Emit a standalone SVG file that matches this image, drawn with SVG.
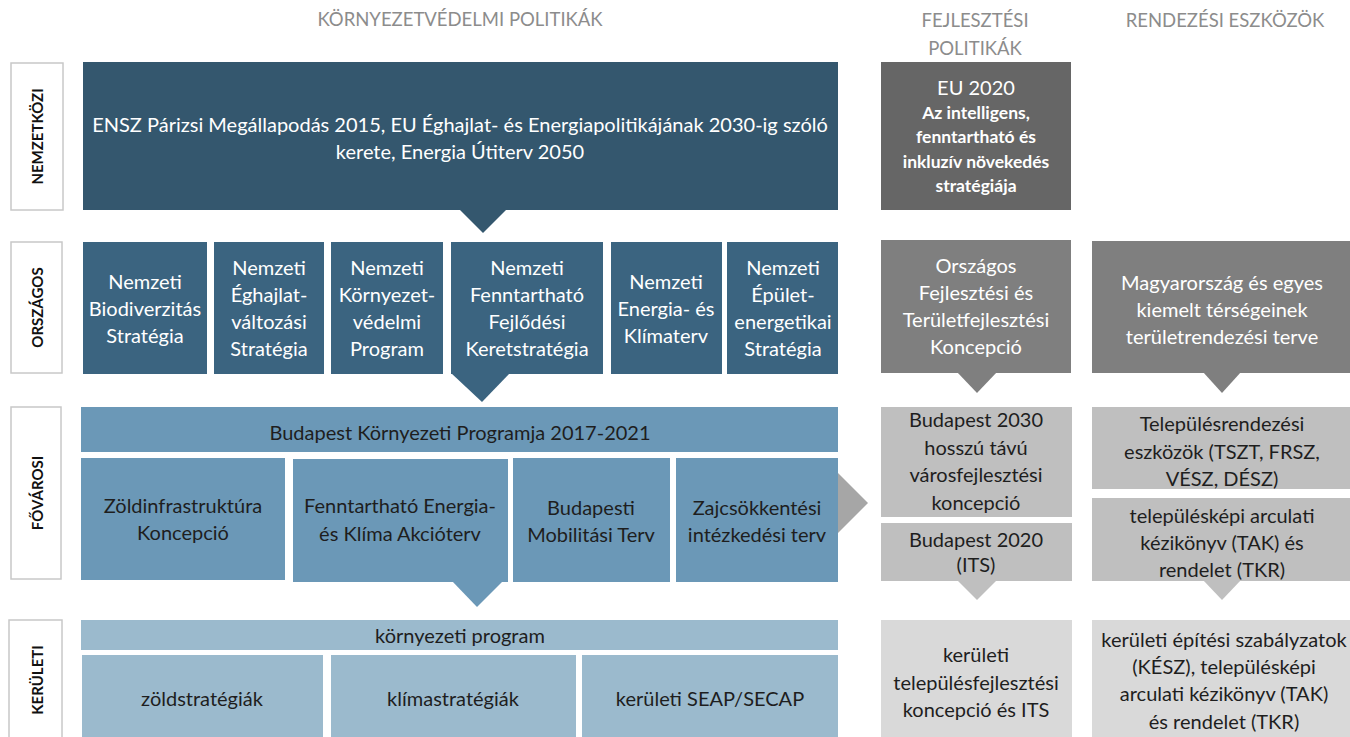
<svg xmlns="http://www.w3.org/2000/svg" width="1350" height="737" viewBox="0 0 1350 737">
<style>
text{font-family:Lato,"Open Sans","Liberation Sans",sans-serif;text-anchor:middle}
.hd{font-size:18.5px;fill:#8c8c8c}
.lbl{fill:#fff;stroke:#c8c8c8;stroke-width:1.5}
.lt{font-size:15px;font-weight:bold;fill:#111}
.w{font-size:20px;fill:#fff}
.d{font-size:20px;fill:#1e1e1e}
.ws{font-size:17.5px;fill:#fff;font-weight:bold}
.c1{fill:#34576e}
.c2{fill:#3b6480}
.c3{fill:#6b98b7}
.c4{fill:#9bbacd}
.g1{fill:#666666}
.g2{fill:#7f7f7f}
.g3{fill:#bfbfbf}
.g4{fill:#d9d9d9}
</style>
<g id="headers">
<text class="hd" x="460" y="26">KÖRNYEZETVÉDELMI POLITIKÁK</text>
<text class="hd" x="975" y="27">FEJLESZTÉSI</text>
<text class="hd" x="975" y="55">POLITIKÁK</text>
<text class="hd" x="1225" y="27">RENDEZÉSI ESZKÖZÖK</text>
</g>
<g id="level-labels">
<g id="lbl-nemzetkozi"><rect class="lbl" x="11" y="63" width="52" height="147"/><text class="lt" transform="translate(43,136.5) rotate(-90)">NEMZETKÖZI</text></g>
<g id="lbl-orszagos"><rect class="lbl" x="11" y="242" width="51" height="131"/><text class="lt" transform="translate(43,307.5) rotate(-90)">ORSZÁGOS</text></g>
<g id="lbl-fovarosi"><rect class="lbl" x="11" y="407" width="50" height="172"/><text class="lt" transform="translate(43,493) rotate(-90)">FŐVÁROSI</text></g>
<g id="lbl-keruleti"><rect class="lbl" x="9" y="620" width="53" height="130"/><text class="lt" transform="translate(43,680) rotate(-90)">KERÜLETI</text></g>
</g>
<g id="connectors">
<polygon class="c1" points="459,209 507,209 483,233"/>
<polygon class="c2" points="451,373 510,373 482,402"/>
<polygon class="c3" points="452,581 503,581 477,607"/>
<polygon fill="#a6a6a6" points="838,473 868,503 838,533"/>
<polygon class="g2" points="957,372 997,372 977,393"/>
<polygon class="g2" points="1203,372 1241,372 1222,393"/>
<polygon class="g3" points="957,580 997,580 977,600"/>
<polygon class="g3" points="1203,580 1241,580 1222,600"/>
</g>
<g id="n-ensz">
<rect class="c1" x="83" y="62" width="755" height="148"/>
<text class="w" x="460" y="132">ENSZ Párizsi Megállapodás 2015, EU Éghajlat- és Energiapolitikájának 2030-ig szóló</text>
<text class="w" x="460" y="159">kerete, Energia Útiterv 2050</text>
</g>
<g id="n-eu2020">
<rect class="g1" x="881" y="62" width="190" height="148"/>
<text class="w" x="976" y="95">EU 2020</text>
<text class="ws" x="976" y="119">Az intelligens,</text>
<text class="ws" x="976" y="143">fenntartható és</text>
<text class="ws" x="976" y="168">inkluzív növekedés</text>
<text class="ws" x="976" y="192">stratégiája</text>
</g>
<g id="n-bio">
<rect class="c2" x="83" y="242" width="124" height="132"/>
<text class="w" x="145" y="289">Nemzeti</text>
<text class="w" x="145" y="316">Biodiverzitás</text>
<text class="w" x="145" y="343">Stratégia</text>
</g>
<g id="n-eghajlat">
<rect class="c2" x="214" y="242" width="110" height="132"/>
<text class="w" x="269" y="275">Nemzeti</text>
<text class="w" x="269" y="302">Éghajlat-</text>
<text class="w" x="269" y="329">változási</text>
<text class="w" x="269" y="356">Stratégia</text>
</g>
<g id="n-kornyezet">
<rect class="c2" x="331" y="242" width="112" height="132"/>
<text class="w" x="387" y="275">Nemzeti</text>
<text class="w" x="387" y="302">Környezet-</text>
<text class="w" x="387" y="329">védelmi</text>
<text class="w" x="387" y="356">Program</text>
</g>
<g id="n-nfft">
<rect class="c2" x="451" y="242" width="152" height="132"/>
<text class="w" x="527" y="275">Nemzeti</text>
<text class="w" x="527" y="302">Fenntartható</text>
<text class="w" x="527" y="329">Fejlődési</text>
<text class="w" x="527" y="356">Keretstratégia</text>
</g>
<g id="n-energia">
<rect class="c2" x="611" y="242" width="111" height="132"/>
<text class="w" x="666" y="289">Nemzeti</text>
<text class="w" x="666" y="316">Energia- és</text>
<text class="w" x="666" y="343">Klímaterv</text>
</g>
<g id="n-epulet">
<rect class="c2" x="727" y="242" width="111" height="132"/>
<text class="w" x="783" y="275">Nemzeti</text>
<text class="w" x="783" y="302">Épület-</text>
<text class="w" x="783" y="329">energetikai</text>
<text class="w" x="783" y="356">Stratégia</text>
</g>
<g id="n-ofk">
<rect class="g2" x="881" y="240" width="190" height="133"/>
<text class="w" x="976" y="273">Országos</text>
<text class="w" x="976" y="300">Fejlesztési és</text>
<text class="w" x="976" y="327">Területfejlesztési</text>
<text class="w" x="976" y="354">Koncepció</text>
</g>
<g id="n-mo">
<rect class="g2" x="1092" y="241" width="258" height="132"/>
<text class="w" x="1222" y="290">Magyarország és egyes</text>
<text class="w" x="1222" y="317">kiemelt térségeinek</text>
<text class="w" x="1222" y="344">területrendezési terve</text>
</g>
<g id="n-bkp">
<rect class="c3" x="81" y="407" width="757" height="45"/>
<text class="d" x="460" y="440">Budapest Környezeti Programja 2017-2021</text>
</g>
<g id="n-zold">
<rect class="c3" x="81" y="458" width="204" height="122"/>
<text class="d" x="183" y="513">Zöldinfrastruktúra</text>
<text class="d" x="183" y="540">Koncepció</text>
</g>
<g id="n-fenntarthato">
<rect class="c3" x="293" y="459" width="215" height="123"/>
<text class="d" x="400" y="513">Fenntartható Energia-</text>
<text class="d" x="400" y="541">és Klíma Akcióterv</text>
</g>
<g id="n-mobilitas">
<rect class="c3" x="513" y="458" width="157" height="124"/>
<text class="d" x="591" y="515">Budapesti</text>
<text class="d" x="591" y="542">Mobilitási Terv</text>
</g>
<g id="n-zaj">
<rect class="c3" x="676" y="458" width="162" height="124"/>
<text class="d" x="757" y="515">Zajcsökkentési</text>
<text class="d" x="757" y="542">intézkedési terv</text>
</g>
<g id="n-bp2030">
<rect class="g3" x="881" y="407" width="191" height="110"/>
<text class="d" x="976" y="427">Budapest 2030</text>
<text class="d" x="976" y="455">hosszú távú</text>
<text class="d" x="976" y="482">városfejlesztési</text>
<text class="d" x="976" y="510">koncepció</text>
</g>
<g id="n-bp2020">
<rect class="g3" x="881" y="523" width="191" height="58"/>
<text class="d" x="976" y="547">Budapest 2020</text>
<text class="d" x="976" y="572">(ITS)</text>
</g>
<g id="n-telepulesrend">
<rect class="g3" x="1092" y="407" width="258" height="82"/>
<text class="d" x="1222" y="431">Településrendezési</text>
<text class="d" x="1222" y="459">eszközök (TSZT, FRSZ,</text>
<text class="d" x="1222" y="486">VÉSZ, DÉSZ)</text>
</g>
<g id="n-telepuleskep">
<rect class="g3" x="1092" y="498" width="258" height="83"/>
<text class="d" x="1222" y="523">településképi arculati</text>
<text class="d" x="1222" y="550">kézikönyv (TAK) és</text>
<text class="d" x="1222" y="577">rendelet (TKR)</text>
</g>
<g id="n-kprog">
<rect class="c4" x="81" y="620" width="757" height="30"/>
<text class="d" x="460" y="643">környezeti program</text>
</g>
<g id="n-zoldstrat">
<rect class="c4" x="82" y="655" width="241" height="82"/>
<text class="d" x="202" y="706">zöldstratégiák</text>
</g>
<g id="n-klimastrat">
<rect class="c4" x="331" y="655" width="245" height="82"/>
<text class="d" x="453" y="706">klímastratégiák</text>
</g>
<g id="n-seap">
<rect class="c4" x="582" y="655" width="256" height="82"/>
<text class="d" x="710" y="706">kerületi SEAP/SECAP</text>
</g>
<g id="n-ktfk">
<rect class="g4" x="881" y="620" width="191" height="117"/>
<text class="d" x="976" y="662">kerületi</text>
<text class="d" x="976" y="690">településfejlesztési</text>
<text class="d" x="976" y="717">koncepció és ITS</text>
</g>
<g id="n-kesz">
<rect class="g4" x="1092" y="620" width="258" height="117"/>
<text class="d" x="1224" y="647">kerületi építési szabályzatok</text>
<text class="d" x="1224" y="674">(KÉSZ), településképi</text>
<text class="d" x="1224" y="701">arculati kézikönyv (TAK)</text>
<text class="d" x="1224" y="729">és rendelet (TKR)</text>
</g>
</svg>
